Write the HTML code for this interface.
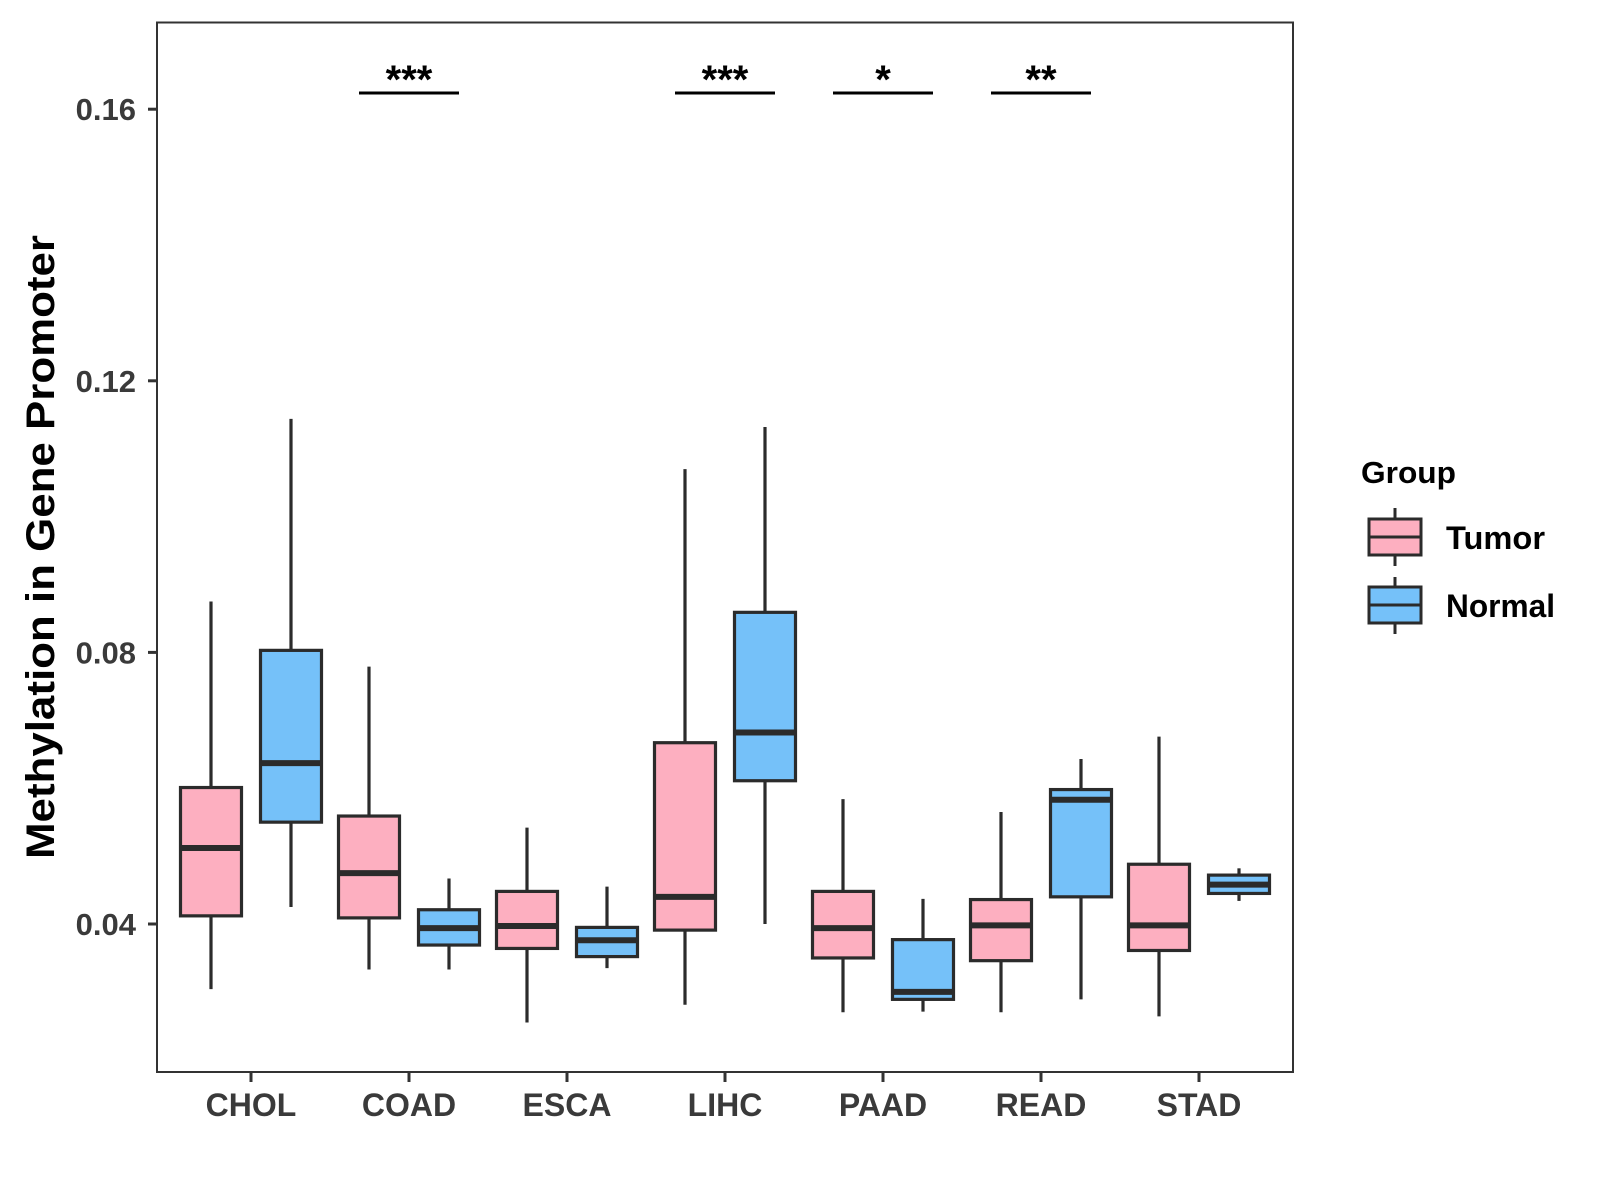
<!DOCTYPE html>
<html><head><meta charset="utf-8"><style>
body{margin:0;background:#fff;}
svg{display:block;font-family:"Liberation Sans",Arial,sans-serif;font-weight:bold;}
</style></head><body>
<svg id="chart" width="1600" height="1200" viewBox="0 0 1600 1200">
<rect x="157" y="22.5" width="1136" height="1049.5" fill="#fff" stroke="#333" stroke-width="2"/>
<g id="boxes"></g>
<g id="yaxis"></g>
<g id="xaxis"></g>
<g id="sig"></g>
<text transform="translate(54,547) rotate(-90)" text-anchor="middle" font-size="40" textLength="624" lengthAdjust="spacingAndGlyphs" fill="#000">Methylation in Gene Promoter</text>
<g>
<text x="1361" y="483" font-size="31" textLength="95" lengthAdjust="spacingAndGlyphs" fill="#000">Group</text>
<g>
<line x1="1395" y1="508" x2="1395" y2="566" stroke="#2b2b2b" stroke-width="3"/>
<rect x="1369" y="519" width="52" height="36" fill="#FDAFC0" stroke="#2b2b2b" stroke-width="3"/>
<line x1="1369" y1="537" x2="1421" y2="537" stroke="#2b2b2b" stroke-width="3"/>
<text x="1446" y="549" font-size="32" textLength="99" lengthAdjust="spacingAndGlyphs" fill="#000">Tumor</text>
</g>
<g>
<line x1="1395" y1="577" x2="1395" y2="634" stroke="#2b2b2b" stroke-width="3"/>
<rect x="1369" y="587" width="52" height="36" fill="#75C1F9" stroke="#2b2b2b" stroke-width="3"/>
<line x1="1369" y1="605" x2="1421" y2="605" stroke="#2b2b2b" stroke-width="3"/>
<text x="1446" y="617" font-size="32" textLength="109" lengthAdjust="spacingAndGlyphs" fill="#000">Normal</text>
</g>
</g>
</svg>
<script>
const categories = ["CHOL","COAD","ESCA","LIHC","PAAD","READ","STAD"];
// [min, q1, median, q3, max]
const tumorStats = [
 [0.0304,0.0412,0.0512,0.0601,0.0875],
 [0.0333,0.0409,0.0475,0.0559,0.0779],
 [0.0255,0.0364,0.0397,0.0448,0.0542],
 [0.0281,0.0391,0.0440,0.0667,0.1070],
 [0.0270,0.0350,0.0394,0.0448,0.0584],
 [0.0270,0.0346,0.0398,0.0436,0.0565],
 [0.0264,0.0361,0.0398,0.0488,0.0676]
];
const normalStats = [
 [0.0425,0.0550,0.0637,0.0803,0.1144],
 [0.0333,0.0369,0.0394,0.0421,0.0467],
 [0.0335,0.0352,0.0376,0.0395,0.0455],
 [0.0400,0.0611,0.0682,0.0859,0.1132],
 [0.0271,0.0289,0.0300,0.0377,0.0437],
 [0.0289,0.0440,0.0583,0.0598,0.0643],
 [0.0434,0.0445,0.0458,0.0472,0.0482]
];
const yTicks = [0.04,0.08,0.12,0.16];
const yTickLabels = ["0.04","0.08","0.12","0.16"];
const sigCategories = ["COAD","LIHC","PAAD","READ"];
const sigLabels = ["***","***","*","**"];

const NS="http://www.w3.org/2000/svg";
function y(v){return 924 - (v-0.04)/0.04*271.6;}
function x(i){return 251 + i*158;}
function mk(tag,attrs,parent){const e=document.createElementNS(NS,tag);for(const k in attrs)e.setAttribute(k,attrs[k]);parent.appendChild(e);return e;}
const boxes=document.getElementById('boxes');
function drawBox(cx,s,fill,name){
  const g=mk('g',{},boxes);
  
  
  const w=61;
  mk('line',{x1:cx,x2:cx,y1:y(s[4]),y2:y(s[0]),stroke:'#2b2b2b','stroke-width':3.2},g);
  mk('rect',{x:cx-w/2,y:y(s[3]),width:w,height:y(s[1])-y(s[3]),fill:fill,stroke:'#2b2b2b','stroke-width':3.2},g);
  mk('line',{x1:cx-w/2,x2:cx+w/2,y1:y(s[2]),y2:y(s[2]),stroke:'#2b2b2b','stroke-width':6},g);
}
categories.forEach((c,i)=>{
  drawBox(x(i)-40,tumorStats[i],'#FDAFC0','box-tumor-'+c.toLowerCase());
  drawBox(x(i)+40,normalStats[i],'#75C1F9','box-normal-'+c.toLowerCase());
});
const ya=document.getElementById('yaxis');
yTicks.forEach((t,i)=>{
  mk('line',{x1:148,x2:157,y1:y(t),y2:y(t),stroke:'#333','stroke-width':3},ya);
  const tx=mk('text',{x:136,y:y(t)+11,'text-anchor':'end','font-size':31,fill:'#3a3a3a'},ya);
  tx.textContent=yTickLabels[i];
  
  
});
const xa=document.getElementById('xaxis');
categories.forEach((c,i)=>{
  mk('line',{x1:x(i),x2:x(i),y1:1072,y2:1082,stroke:'#333','stroke-width':3},xa);
  const tx=mk('text',{x:x(i),y:1116,'text-anchor':'middle','font-size':32,fill:'#3a3a3a'},xa);
  tx.textContent=c;
  
  
});
const sg=document.getElementById('sig');
sigCategories.forEach((c,k)=>{
  const i=categories.indexOf(c);
  mk('line',{x1:x(i)-50,x2:x(i)+50,y1:93,y2:93,stroke:'#000','stroke-width':3},sg);
  const tx=mk('text',{x:x(i),y:93,'text-anchor':'middle','font-size':40,fill:'#000'},sg);
  tx.textContent=sigLabels[k];
  
  
});
</script>
</body></html>
